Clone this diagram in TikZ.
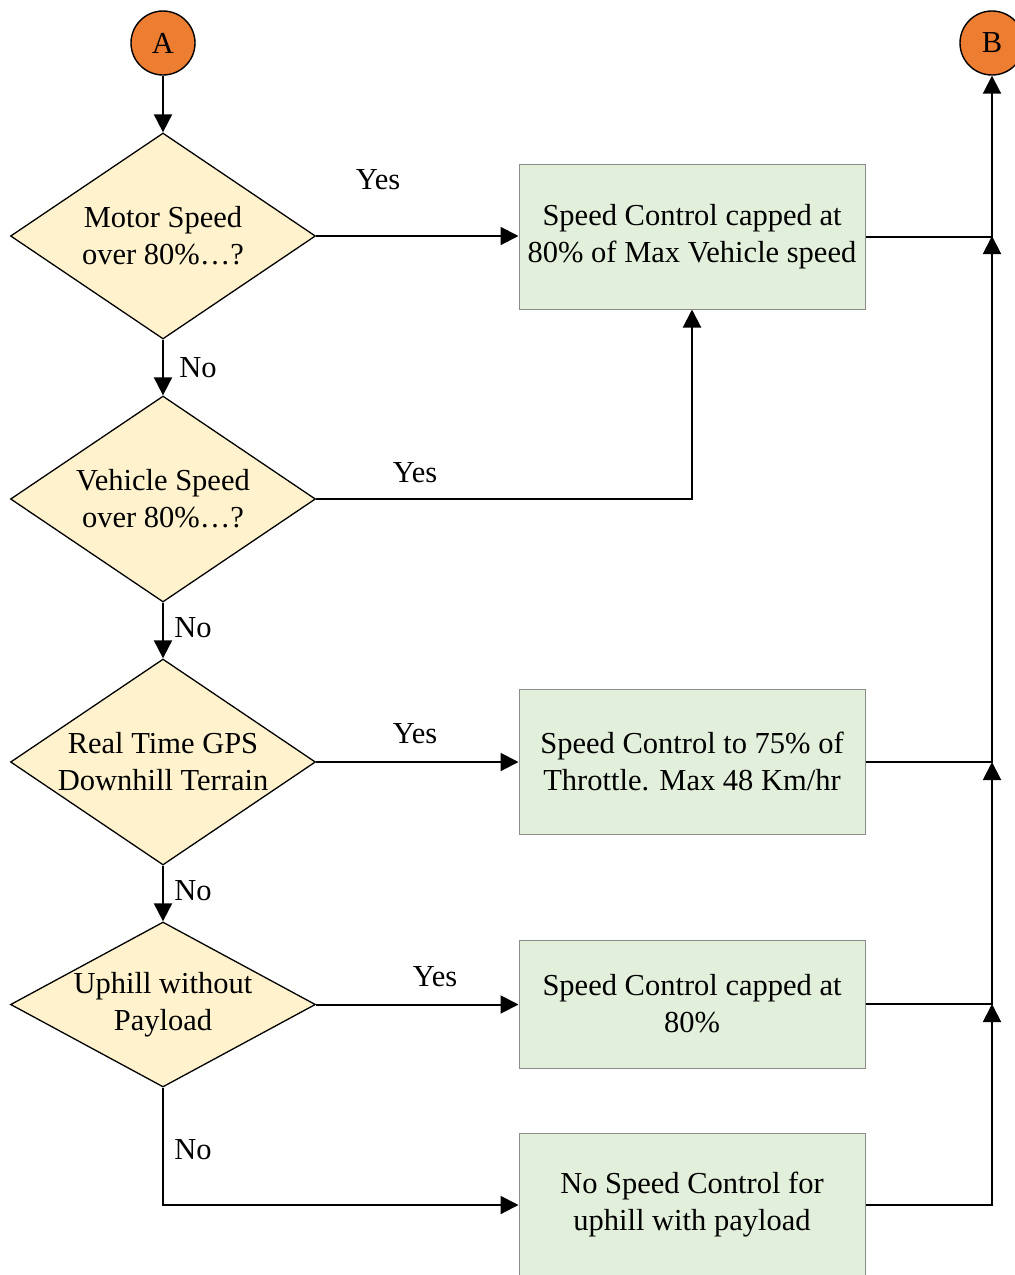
\documentclass[tikz,border=0pt]{standalone}
\usepackage{fontspec}
\setmainfont{Liberation Serif}
\usepackage{tikz}
\usetikzlibrary{arrows.meta, shapes.geometric}
\definecolor{termfill}{HTML}{ED7D31}
\definecolor{decfill}{HTML}{FFF2CC}
\definecolor{actfill}{HTML}{E2EFDA}
\definecolor{actline}{HTML}{8C8C8C}
\tikzset{>={Triangle[length=9pt, width=9pt]}, font=\fontsize{15.25}{18.5}\selectfont}
\tikzset{term/.style={shape=circle, draw, line width=0.7pt, fill=termfill,
    minimum size=32pt, inner sep=0pt},
  decision/.style={shape=diamond, draw, line width=0.65pt, fill=decfill,
    align=center, inner sep=0pt, minimum width=152.5pt, minimum height=103pt},
  action/.style={shape=rectangle, draw=actline, line width=0.5pt, fill=actfill,
    align=center, minimum width=173pt, minimum height=72.5pt},
  conn/.style={draw, line width=1pt}}

\begin{document}
\begin{tikzpicture}[x=0.5pt, y=-0.5pt]
  \useasboundingbox (0,0) rectangle (1015,1275);
  % start / end markers
  \node[term] (A) at (163,43) {A};
  \node[term] (B) at (992,43) {B};
  % decisions
  \node[decision, aspect=1.48] (d1) at (163,236) {Motor Speed\\over 80\%\ldots?};
  \node[decision, aspect=1.48] (d2) at (163,499) {Vehicle Speed\\over 80\%\ldots?};
  \node[decision, aspect=1.48] (d3) at (163,762) {Real Time GPS\\Downhill Terrain};
  \node[decision, aspect=1.85, minimum height=82.5pt] (d4) at (163,1004.5)
    {Uphill without\\Payload};
  % actions
  \node[action] (a1) at (692,236.5) {Speed Control capped at\\80\% of Max Vehicle speed};
  \node[action] (a2) at (692,761.5) {Speed Control to 75\% of\\Throttle. Max 48 Km/hr};
  \node[action, minimum height=64pt] (a3) at (692,1004) {Speed Control capped at\\80\%};
  \node[action, minimum height=72pt] (a4) at (692,1205) {No Speed Control for\\uphill with payload};
  % joints on the return line
  \foreach \n/\y in {j1/236, j2/762, j3/1004}
    \coordinate (\n) at (992,\y);
  %%%%%%%%%
  \path[conn, ->] (A) -- (d1);
  \path[conn, ->] (d1) -- (d2);
  \path[conn, ->] (d2) -- (d3);
  \path[conn, ->] (d3) -- (d4);
  \path[conn, ->] (d4.south) |- (a4.west);
  \path[conn, ->] (d1.east) -- (d1.east -| a1.west);
  \path[conn, ->] (d2.east) -| (a1.south);
  \path[conn, ->] (d3.east) -- (d3.east -| a2.west);
  \path[conn, ->] (d4.east) -- (d4.east -| a3.west);
  \path[conn, ->] (a1.east) -| (B.south);
  \path[conn, ->] (a2.east |- j2) -| (j1);
  \path[conn, ->] (a3.east |- j3) -| (j2);
  \path[conn, ->] (a4.east) -| (j3);
  % branch labels
  \foreach \x/\y in {378/180, 415/473, 415/734, 435/977}
    \node at (\x,\y) {Yes};
  \foreach \x/\y in {198/368, 193/628, 193/891, 193/1150}
    \node at (\x,\y) {No};
\end{tikzpicture}
\end{document}
